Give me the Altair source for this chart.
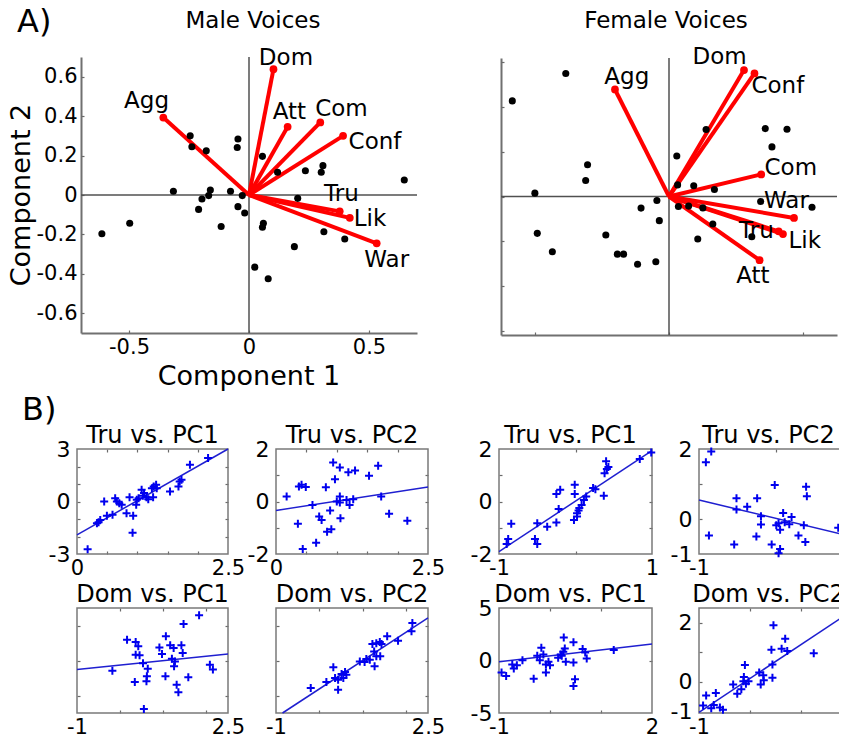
import altair as alt
import pandas as pd

W, H = 831, 731
FONT = "DejaVu Sans"

# ---------------- Panel A data (PCA biplots) ----------------
male_pc1 = [-0.245, -0.238, -0.178, -0.046, -0.049, 0.056, 0.119, 0.235, 0.308, 0.301, 0.647,
            -0.315, -0.161, -0.077, -0.196, -0.168, -0.028, -0.210, -0.046, -0.018, -0.116,
            0.060, 0.056, 0.203, 0.312, 0.399, 0.189, 0.024, 0.080, -0.497, -0.613]
male_pc2 = [0.300, 0.245, 0.224, 0.284, 0.241, 0.196, 0.115, 0.123, 0.149, 0.115, 0.076,
            0.019, 0.025, 0.019, -0.020, -0.003, -0.003, -0.073, -0.059, -0.091, -0.160,
            -0.143, -0.164, -0.017, -0.186, -0.223, -0.262, -0.366, -0.425, -0.143, -0.197]
male_traits = ["Dom", "Agg", "Att", "Com", "Conf", "Tru", "Lik", "War"]
male_load1 = [0.102, -0.357, 0.161, 0.297, 0.392, 0.378, 0.420, 0.532]
male_load2 = [0.638, 0.393, 0.346, 0.368, 0.300, -0.083, -0.116, -0.245]
male_lab1 = [0.154, -0.427, 0.168, 0.385, 0.525, 0.385, 0.504, 0.574]
male_lab2 = [0.697, 0.478, 0.419, 0.435, 0.267, 0.005, -0.122, -0.332]

female_pc1 = [-0.384, -0.583, 0.138, 0.358, 0.439, 0.383, 0.029, -0.303, -0.310, 0.032, 0.092,
              0.169, -0.499, -0.045, -0.104, 0.035, 0.073, 0.126, 0.341, 0.532, -0.036, 0.163,
              -0.490, -0.235, 0.107, 0.308, -0.434, -0.192, -0.169, -0.117, -0.049]
female_pc2 = [0.551, 0.428, 0.300, 0.304, 0.301, 0.222, 0.181, 0.142, 0.072, 0.052, 0.048,
              0.031, 0.015, -0.018, -0.052, -0.045, -0.043, -0.051, -0.022, -0.048, -0.108, -0.123,
              -0.165, -0.172, -0.190, -0.180, -0.247, -0.258, -0.258, -0.303, -0.292]
female_traits = ["Dom", "Conf", "Agg", "Com", "War", "Tru", "Lik", "Att"]
female_load1 = [0.279, 0.318, -0.201, 0.343, 0.465, 0.408, 0.424, 0.337]
female_load2 = [0.566, 0.551, 0.479, 0.099, -0.096, -0.156, -0.168, -0.285]
female_lab1 = [0.188, 0.405, -0.157, 0.453, 0.437, 0.325, 0.505, 0.312]
female_lab2 = [0.623, 0.494, 0.536, 0.129, -0.018, -0.153, -0.198, -0.355]

# ---------------- Panel B data (ratings vs. PCs) ----------------
m_tru_pc1_x = [0.176, 0.357, 0.385, 0.33, 0.45, 0.495, 0.588, 0.632, 0.66, 0.70, 0.74, 0.82, 0.87,
               0.92, 0.93, 0.98, 0.99, 1.02, 1.07, 1.09, 1.11, 1.15, 1.18, 1.24, 1.26, 1.27, 1.31,
               1.32, 1.54, 1.68, 1.70, 1.73, 1.87, 2.17]
m_tru_pc1_y = [-2.73, -1.19, -1.05, -1.24, 0.0, -0.82, -0.76, 0.19, 0.0, -0.10, -0.19, -0.67, 0.25,
               -1.78, -0.82, -0.19, 0.1, 0.19, 0.67, 0.33, 0.48, 0.25, 0.13, 0.76, 0.25, 0.86, 0.96,
               0.76, 0.57, 0.86, 1.15, 1.24, 2.10, 2.49]
m_tru_pc1_fit = [-1.91, 3.0]

m_tru_pc2_x = [0.175, 0.377, 0.42, 0.49, 0.36, 0.44, 0.66, 0.60, 0.82, 0.71, 0.75, 0.89, 0.84, 0.91,
               0.94, 1.05, 0.97, 1.05, 1.06, 1.05, 1.19, 1.30, 1.21, 1.27, 1.53, 1.68, 1.73, 1.86,
               2.16, 1.00, 1.16]
m_tru_pc2_y = [0.19, 0.57, 0.64, 0.55, -0.85, -1.81, -1.57, -0.13, 0.54, -0.57, -0.70, -0.34, -1.15,
               -1.06, 1.49, 1.30, 0.85, 0.19, -0.64, -0.04, 1.11, 1.18, -0.13, 0.09, 0.98, 1.36, 0.19,
               -0.47, -0.73, 0.0, 0.06]
m_tru_pc2_fit = [-0.34, 0.55]

m_dom_pc1_x = [-0.18, 0.16, 0.36, 0.42, 0.36, 0.45, 0.34, 0.61, 0.62, 0.64, 0.53, 0.55, 0.91, 0.97,
               1.06, 1.05, 1.16, 1.24, 1.20, 1.25, 1.27, 1.42, 1.45, 1.31, 1.35, 1.58, 1.47, 1.83,
               2.08, 2.15]
m_dom_pc1_y = [-0.58, 1.19, 1.06, 0.81, 0.33, 0.30, -1.23, -1.19, -0.90, -0.47, -0.16, -2.77, 0.75,
               0.37, 1.38, -0.90, 0.87, 0.71, 0.10, -0.33, -0.05, 0.87, 0.43, -1.38, -1.82, -0.96,
               2.09, 2.58, -0.24, -0.52]
m_dom_pc1_fit = [-0.52, 0.37]

m_dom_pc2_x = [-0.20, 0.16, 0.32, 0.36, 0.43, 0.43, 0.51, 0.55, 0.59, 0.62, 0.93, 1.04, 1.08, 1.16,
               1.22, 1.31, 1.39, 1.43, 1.56, 1.27, 1.31, 1.40, 1.26, 1.81, 2.14, 2.12]
m_dom_pc2_y = [-1.57, -1.23, -0.39, -1.0, -1.10, -1.67, -0.77, -1.0, -0.66, -0.81, -0.05, -0.09, 0.09,
               0.05, 0.94, 0.99, 1.06, 0.94, 1.38, -0.33, 0.24, 0.24, 0.52, 1.13, 2.14, 1.67]
m_dom_pc2_fit_x = [-0.85, 2.5]
m_dom_pc2_fit = [-3.0, 2.43]

f_tru_pc1_x = [-0.90, -0.88, -0.84, -0.53, -0.50, -0.50, -0.37, -0.25, -0.22, -0.25, -0.20, -0.01,
               -0.01, -0.02, 0.02, 0.05, 0.08, 0.11, 0.14, 0.23, 0.26, 0.37, 0.38, 0.40, 0.41, 0.43,
               0.84, 0.99, 0.02, 0.04]
f_tru_pc1_y = [-1.62, -1.43, -0.85, -1.43, -1.62, -0.83, -0.96, -0.80, -0.29, 0.29, 0.45, 0.64, 0.29,
               -0.70, -0.57, -0.25, -0.13, 0.06, 0.19, 0.51, 0.47, 0.22, 1.08, 1.53, 1.24, 1.31, 1.62,
               1.87, -0.45, -0.34]
f_tru_pc1_fit = [-1.91, 1.94]

f_tru_pc2_x = [-0.84, -0.91, -0.87, -0.54, -0.51, -0.51, -0.37, -0.24, -0.25, -0.19, -0.19, -0.05,
               -0.01, 0.01, 0.04, 0.06, 0.10, 0.12, 0.18, 0.21, 0.30, 0.37, 0.39, 0.40, 0.41, 0.82,
               0.04, 0.06]
f_tru_pc2_y = [1.93, 1.62, -0.47, -0.73, 0.59, 0.27, 0.35, 0.59, -0.50, 0.08, -0.16, -0.73, 0.97,
               -0.18, -0.98, -0.31, 0.17, -0.09, -0.15, 0.06, -0.47, -0.18, -0.66, 0.92, 0.65, -0.25,
               -0.12, -0.86]
f_tru_pc2_fit = [0.54, -0.50]

f_dom_pc1_x = [-0.95, -0.86, -0.74, -0.71, -0.65, -0.54, -0.32, -0.25, -0.17, -0.20, -0.13, -0.08,
               -0.08, -0.03, 0.0, 0.16, 0.21, 0.26, 0.27, 0.29, 0.31, 0.46, 0.46, 0.49, 0.46, 0.64,
               0.69, 0.72, 1.25, 0.23]
f_dom_pc1_y = [-1.15, -1.47, -0.38, -0.77, -0.45, 0.03, -1.73, 0.45, 1.22, 0.03, 0.58, -0.38, -1.15,
               -0.13, -0.45, 0.26, 0.58, 0.83, 2.18, 1.15, -0.13, 1.73, -0.19, -1.79, -2.44, 1.09,
               0.77, 0.19, 0.99, 0.45]
f_dom_pc1_fit = [-0.13, 1.57]

f_dom_pc2_x = [-0.92, -0.86, -0.71, -0.67, -0.59, -0.53, -0.76, -0.33, -0.25, -0.17, -0.13, -0.12,
               -0.10, -0.08, -0.03, 0.18, 0.21, 0.26, 0.27, 0.44, 0.44, 0.42, 0.46, 0.62, 0.69, 0.73,
               1.25]
f_dom_pc2_y = [-0.80, -0.46, -0.78, -0.37, -0.86, -0.94, -0.89, -0.09, -0.40, -0.25, 0.02, 0.17, 0.57,
               -0.06, 0.02, 0.32, -0.09, 0.23, 0.06, 0.14, 0.59, 1.09, 1.92, 1.12, 1.46, 1.05, 0.97]
f_dom_pc2_fit = [-1.03, 2.41]

# ---------------- layout (pixel ranges of each plot area) ----------------
MALE_XR, MALE_YR = [73, 409], [325, 49]
FEM_XR, FEM_YR = [493, 829], [327, 50]
B_COLS = [[69, 220], [268, 420], [491, 644], [691, 844]]
B_TITLE_SHIFT = [0, 0, -5, -7]
B_ROWS = [[546, 441], [705, 600]]
PLUS = "M-1,0H1M0,-1V1"


def scale(dom, rng):
    return alt.Scale(domain=list(dom), range=list(rng), nice=False, zero=False)


def axis(orient, offset, values=None, labels=False, ticks=False, domain=False,
         label_size=21, label_pad=3):
    kw = dict(orient=orient, offset=offset, grid=False, title=None, labels=labels,
              ticks=ticks, domain=domain, tickSize=3 if ticks else 0, tickColor="#6a6a6a",
              tickWidth=1.2, domainColor="#707070", domainWidth=2)
    if values is not None:
        kw["values"] = list(values)
    if labels:
        kw.update(labelFont=FONT, labelFontSize=label_size, labelColor="black",
                  labelPadding=label_pad, labelExpr="toString(datum.value)",
                  labelFlush=False, labelOverlap=False, labelBound=False)
    return alt.Axis(**kw)


def text(s, x, y, size, align="center", baseline="alphabetic", angle=0):
    return alt.Chart(pd.DataFrame({"t": [s]})).mark_text(
        font=FONT, fontSize=size, align=align, baseline=baseline, angle=angle, color="black"
    ).encode(text="t:N", x=alt.value(x), y=alt.value(y))


def pca_panel(pc1, pc2, traits, l1, l2, lx, ly, xdom, ydom, xr, yr, xt, yt, labelled):
    xs, ys = scale(xdom, xr), scale(ydom, yr)
    left, right = xr
    bottom, top = yr
    out = []
    zero = pd.DataFrame({"x": [0.0, xdom[0]], "x2": [0.0, xdom[1]],
                         "y": [ydom[0], 0.0], "y2": [ydom[1], 0.0]})
    out.append(alt.Chart(zero).mark_rule(color="#505050", strokeWidth=1.5).encode(
        x=alt.X("x:Q", scale=xs, axis=axis("bottom", bottom - H, xt, labels=labelled,
                                            domain=True, label_pad=3)),
        x2="x2:Q",
        y=alt.Y("y:Q", scale=ys, axis=axis("left", -left, yt, labels=labelled, domain=True,
                                            label_pad=4)),
        y2="y2:Q"))
    arrows = pd.DataFrame({"ox": [0.0] * len(traits), "oy": [0.0] * len(traits),
                           "l1": l1, "l2": l2, "trait": traits, "lx": lx, "ly": ly})
    out.append(alt.Chart(arrows).mark_rule(color="#ff0000", strokeWidth=4).encode(
        x=alt.X("ox:Q", scale=xs, axis=None), x2="l1:Q",
        y=alt.Y("oy:Q", scale=ys, axis=None), y2="l2:Q"))
    out.append(alt.Chart(arrows).mark_circle(color="#ff0000", size=60, opacity=1).encode(
        x=alt.X("l1:Q", scale=xs, axis=None), y=alt.Y("l2:Q", scale=ys, axis=None)))
    pts = pd.DataFrame({"pc1": pc1, "pc2": pc2})
    out.append(alt.Chart(pts).mark_circle(color="black", size=50, opacity=1).encode(
        x=alt.X("pc1:Q", scale=xs, axis=axis("top", -bottom, xt, ticks=True)),
        y=alt.Y("pc2:Q", scale=ys, axis=axis("right", left - W, yt, ticks=True))))
    out.append(alt.Chart(arrows).mark_text(font=FONT, fontSize=23, color="black").encode(
        x=alt.X("lx:Q", scale=xs, axis=None), y=alt.Y("ly:Q", scale=ys, axis=None),
        text="trait:N"))
    return out


def fit_panel(xv, yv, fx, fy, xdom, ydom, xr, yr, xl, yl, xt, yt, title, shift):
    xs, ys = scale(xdom, xr), scale(ydom, yr)
    left, right = xr
    bottom, top = yr
    out = []
    frame = pd.DataFrame({"x": [xdom[0]], "x2": [xdom[1]], "y": [ydom[0]], "y2": [ydom[1]]})
    yaxis = axis("left", -left, yl, labels=True, label_size=22, label_pad=7) if yl else None
    out.append(alt.Chart(frame).mark_rect(fillOpacity=0, stroke="#7a7a7a", strokeWidth=1.5).encode(
        x=alt.X("x:Q", scale=xs, axis=axis("bottom", bottom - H, xl, labels=True,
                                            label_size=21, label_pad=3)),
        x2="x2:Q",
        y=alt.Y("y:Q", scale=ys, axis=yaxis),
        y2="y2:Q"))
    line = pd.DataFrame({"x": fx, "y": fy})
    out.append(alt.Chart(line).mark_line(color="#1f1fd0", strokeWidth=1.5).encode(
        x=alt.X("x:Q", scale=xs, axis=axis("top", -bottom, xt, ticks=True)),
        y=alt.Y("y:Q", scale=ys, axis=axis("right", left - W, yt, ticks=True))))
    pts = pd.DataFrame({"x": xv, "y": yv})
    out.append(alt.Chart(pts).mark_point(shape=PLUS, filled=False, color="#0000ee",
                                         strokeWidth=2, size=64, opacity=1).encode(
        x=alt.X("x:Q", scale=xs, axis=axis("bottom", top - H, xt, ticks=True)),
        y=alt.Y("y:Q", scale=ys, axis=axis("left", -right, yt, ticks=True))))
    out.append(text(title, (left + right) / 2 + shift, top - 6, 24))
    return out


layers = []
layers += pca_panel(male_pc1, male_pc2, male_traits, male_load1, male_load2, male_lab1, male_lab2,
                    [-0.7, 0.7], [-0.7, 0.7], MALE_XR, MALE_YR,
                    [-0.5, 0, 0.5], [-0.6, -0.4, -0.2, 0, 0.2, 0.4, 0.6], True)
layers += pca_panel(female_pc1, female_pc2, female_traits, female_load1, female_load2,
                    female_lab1, female_lab2, [-0.625, 0.625], [-0.62, 0.62], FEM_XR, FEM_YR,
                    [-0.5, 0, 0.5], [-0.6, -0.4, -0.2, 0, 0.2, 0.4, 0.6], False)

r1, r2 = B_ROWS
c1, c2, c3, c4 = B_COLS
s1, s2, s3, s4 = B_TITLE_SHIFT
layers += fit_panel(m_tru_pc1_x, m_tru_pc1_y, [0, 2.5], m_tru_pc1_fit, [0, 2.5], [-3, 3], c1, r1,
                    [0, 2.5], [-3, 0, 3], [0.5, 1, 1.5, 2], [-2, -1, 0, 1, 2], "Tru vs. PC1", s1)
layers += fit_panel(m_tru_pc2_x, m_tru_pc2_y, [0, 2.5], m_tru_pc2_fit, [0, 2.5], [-2, 2], c2, r1,
                    [0, 2.5], [-2, 0, 2], [0.5, 1, 1.5, 2], [-1, 0, 1], "Tru vs. PC2", s2)
layers += fit_panel(f_tru_pc1_x, f_tru_pc1_y, [-1, 1], f_tru_pc1_fit, [-1, 1], [-2, 2], c3, r1,
                    [-1, 1], [-2, 0, 2], [0], [-1, 0, 1], "Tru vs. PC1", s3)
layers += fit_panel(f_tru_pc2_x, f_tru_pc2_y, [-1, 1], f_tru_pc2_fit, [-1, 1], [-1, 2], c4, r1,
                    [-1, 1], [-1, 0, 2], [0], [0, 1], "Tru vs. PC2", s4)
layers += fit_panel(m_dom_pc1_x, m_dom_pc1_y, [-1, 2.5], m_dom_pc1_fit, [-1, 2.5], [-3, 3], c1, r2,
                    [-1, 2.5], None, [0, 1, 2], [-2, 0, 2], "Dom vs. PC1", s1)
layers += fit_panel(m_dom_pc2_x, m_dom_pc2_y, m_dom_pc2_fit_x, m_dom_pc2_fit, [-1, 2.5], [-3, 3],
                    c2, r2, [-1, 2.5], None, [0, 1, 2], [-2, 0, 2], "Dom vs. PC2", s2)
layers += fit_panel(f_dom_pc1_x, f_dom_pc1_y, [-1, 2], f_dom_pc1_fit, [-1, 2], [-5, 5], c3, r2,
                    [-1, 2], [-5, 0, 5], [0, 1], [0], "Dom vs. PC1", s3)
layers += fit_panel(f_dom_pc2_x, f_dom_pc2_y, [-1, 2], f_dom_pc2_fit, [-1, 2], [-1.05, 2.5], c4, r2,
                    [-1, 2], [-1, 0, 2], [0, 1], [0, 1, 2], "Dom vs. PC2", s4)

layers += [
    text("A)", 9, 24, 32, align="left"),
    text("B)", 14, 412, 32, align="left"),
    text("Male Voices", 245, 20, 23),
    text("Female Voices", 658, 20, 23),
    text("Component 1", 241, 377, 27),
    text("Component 2", 14, 187, 27, baseline="middle", angle=270),
]

chart = alt.layer(*layers).resolve_scale(x="independent", y="independent").properties(
    width=W, height=H, autosize=alt.AutoSizeParams(type="none"), padding=0
).configure_view(stroke=None)

chart.save("out.html", embed_options={"renderer": "svg", "actions": False})
